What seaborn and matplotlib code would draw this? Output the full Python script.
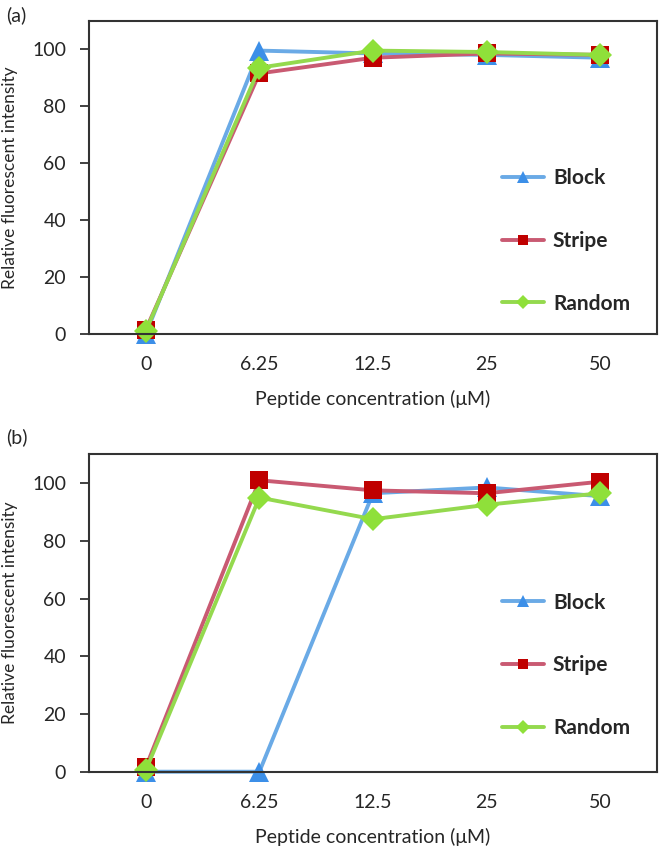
import matplotlib
matplotlib.use("Agg")
import matplotlib.pyplot as plt
import seaborn as sns
import pandas as pd
import numpy as np

# data
conc_labels = ["0", "6.25", "12.5", "25", "50"]
series_names = ["Block", "Stripe", "Random"]

block_a = [0, 99.5, 98.5, 98, 97]
stripe_a = [1.5, 91.5, 97, 98.5, 98]
random_a = [1, 93.5, 99.5, 99, 98]

block_b = [0, 0, 96.5, 98.5, 95.5]
stripe_b = [1.5, 101, 97.5, 96.5, 100.5]
random_b = [0.5, 95, 87.5, 92.5, 96.5]

line_colors = {"Block": "#6aaae6", "Stripe": "#c95a72", "Random": "#94d94e"}
marker_colors = {"Block": "#3c8fe8", "Stripe": "#c00000", "Random": "#8fe03a"}
markers = {"Block": "^", "Stripe": "s", "Random": "D"}
msizes = {"Block": 14, "Stripe": 13, "Random": 12}

sns.set_style("white")
plt.rcParams['font.family'] = ['Lato', 'DejaVu Sans']

fig = plt.figure(figsize=(6.65, 8.47), dpi=100)
ax_a = fig.add_axes([89/665, 1 - 334/847, 568/665, 313.3/847])
ax_b = fig.add_axes([89/665, 1 - 771.7/847, 568/665, 317.4/847])


def draw_panel(ax, values, leg_y):
    df = pd.DataFrame({
        'pos': list(range(len(conc_labels))) * 3,
        'value': values[0] + values[1] + values[2],
        'series': [n for n in series_names for _ in conc_labels],
    })
    for name in series_names:
        sub = df[df['series'] == name]
        sns.lineplot(data=sub, x='pos', y='value', ax=ax, color=line_colors[name],
                     lw=2.8, marker=markers[name], markersize=msizes[name],
                     markerfacecolor=marker_colors[name], markeredgecolor=marker_colors[name],
                     markeredgewidth=0, label=name, clip_on=False)
    ax.set_xlim(-0.5, len(conc_labels) - 0.5)
    ax.set_ylim(0, 110)
    ax.set_yticks(np.arange(0, 101, 20))
    ax.set_xticks(range(len(conc_labels)))
    ax.set_xticklabels(conc_labels)
    ax.tick_params(axis='y', direction='out', length=6.5, width=1.3, color='#333333',
                   pad=10, labelsize=14, left=True)
    ax.tick_params(axis='x', length=0, pad=16, labelsize=14)
    for sp in ax.spines.values():
        sp.set_color('#333333')
        sp.set_linewidth(1.5)
    ax.set_xlabel('Peptide concentration (μM)', fontsize=14, labelpad=12)
    ax.set_ylabel('Relative fluorescent intensity', fontsize=12.5)
    ax.yaxis.set_label_coords(-0.125, 0.5)
    ax.legend(loc='center left', bbox_to_anchor=(0.727, leg_y), frameon=False,
              handlelength=2.0, handletextpad=0.45, labelspacing=2.05,
              markerscale=0.6, borderpad=0, borderaxespad=0,
              prop={'weight': 'bold', 'size': 15})


draw_panel(ax_a, [block_a, stripe_a, random_a], 0.297)
draw_panel(ax_b, [block_b, stripe_b, random_b], 0.335)

fig.text(6/665, 1 - 15/847, '(a)', fontsize=14, va='center', ha='left')
fig.text(6/665, 1 - 437/847, '(b)', fontsize=14, va='center', ha='left')

fig.savefig('out.png', dpi=100)
